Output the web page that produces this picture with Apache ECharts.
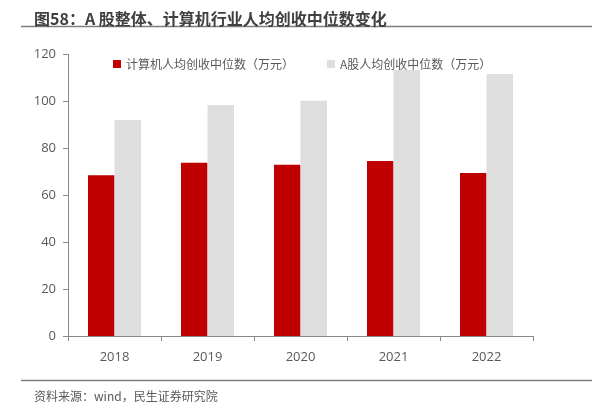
<!DOCTYPE html>
<html>
<head>
<meta charset="utf-8">
<script src="https://cdn.jsdelivr.net/npm/echarts@6/dist/echarts.min.js"></script>
<style>
html,body{margin:0;padding:0;background:#fff;}
#c{width:607px;height:413px;}
</style>
</head>
<body>
<div id="c"></div>
<script>
const categories = ['2018', '2019', '2020', '2021', '2022'];
const computerValues = [68.5, 73.8, 73.0, 74.5, 69.4];
const aShareValues = [92.0, 98.4, 100.2, 113.3, 111.6];
const seriesNames = ['计算机人均创收中位数（万元）', 'A股人均创收中位数（万元）'];
const titleText = '图58：A 股整体、计算机行业人均创收中位数变化';
const sourceText = '资料来源：wind，民生证券研究院';
const yMin = 0, yMax = 120, yInterval = 20;

const FONT = '"Noto Sans CJK SC", "Noto Sans", sans-serif';
const NUMFONT = '"Open Sans", "Noto Sans", sans-serif';
const chart = echarts.init(document.getElementById('c'), null, {renderer: 'canvas'});
chart.setOption({
  animation: false,
  textStyle: {fontFamily: FONT},
  title: [
    {text: titleText, left: 29, top: 6, textStyle: {fontSize: 16, fontWeight: 'bold', color: '#404040', fontFamily: FONT}},
    {text: sourceText, left: 29, top: 385, textStyle: {fontSize: 12, fontWeight: 'normal', color: '#595959', fontFamily: FONT}}
  ],
  graphic: [
    {type: 'line', shape: {x1: 21, y1: 26.5, x2: 592, y2: 26.5}, style: {stroke: '#7f7f7f', lineWidth: 1.5}},
    {type: 'line', shape: {x1: 21, y1: 380.5, x2: 592, y2: 380.5}, style: {stroke: '#7f7f7f', lineWidth: 1.5}}
  ],
  legend: {
    left: 108, top: 53,
    itemWidth: 8, itemHeight: 8, itemGap: 33,
    icon: 'rect',
    textStyle: {fontSize: 12, color: '#595959', fontFamily: FONT},
    data: seriesNames
  },
  grid: {left: 68, right: 74, top: 54.3, bottom: 77, containLabel: false},
  xAxis: {
    type: 'category',
    data: categories,
    axisLine: {lineStyle: {color: '#898989', width: 1}},
    axisTick: {show: true, length: 5, lineStyle: {color: '#898989'}},
    axisLabel: {fontSize: 13, color: '#595959', margin: 15, fontFamily: NUMFONT}
  },
  yAxis: {
    type: 'value',
    min: yMin, max: yMax, interval: yInterval,
    axisLine: {show: true, lineStyle: {color: '#898989', width: 1}},
    axisTick: {show: true, length: 5, lineStyle: {color: '#898989'}},
    axisLabel: {fontSize: 13, color: '#595959', margin: 12, fontFamily: NUMFONT},
    splitLine: {show: false}
  },
  series: [
    {name: seriesNames[0], type: 'bar', data: computerValues, barWidth: 26.5, barGap: '0%', itemStyle: {color: '#C00000'}},
    {name: seriesNames[1], type: 'bar', data: aShareValues, barWidth: 26.5, barGap: '0%', itemStyle: {color: '#DEDEDE'}}
  ]
});
</script>
</body>
</html>
